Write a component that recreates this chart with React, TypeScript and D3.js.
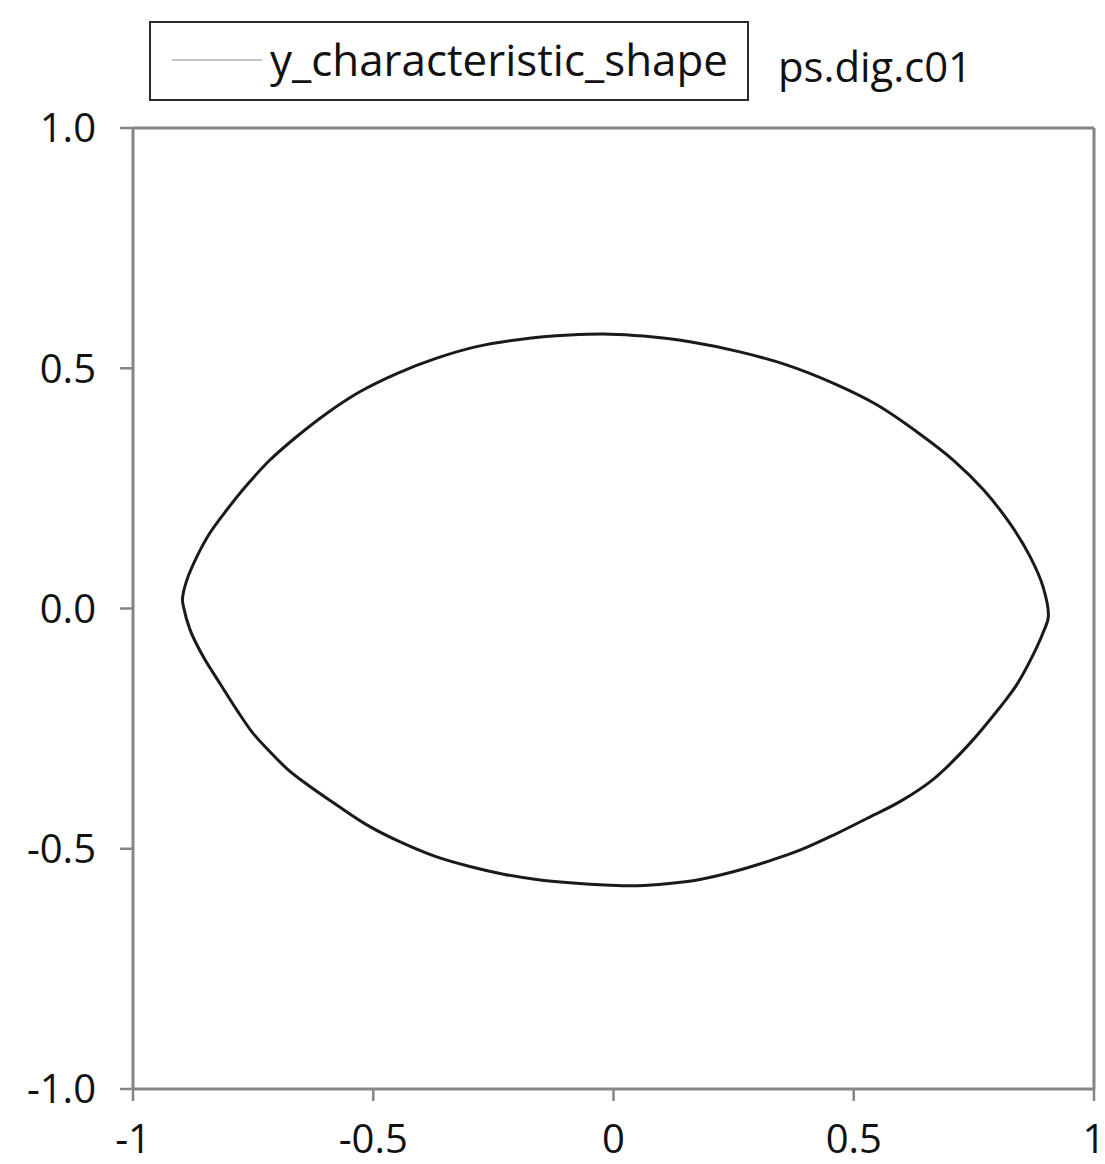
import React from "react";
import * as d3 from "d3";

// Upper branch, left tip to right tip
const upperX = [-0.897, -0.888, -0.867, -0.84, -0.805, -0.763, -0.715, -0.659, -0.597, -0.528, -0.451, -0.368, -0.285, -0.195, -0.091, -0.007, 0.062, 0.159, 0.263, 0.36, 0.457, 0.548, 0.631, 0.707, 0.77, 0.825, 0.867, 0.894, 0.905];
const upperY = [0.02, 0.059, 0.108, 0.157, 0.205, 0.257, 0.309, 0.358, 0.406, 0.451, 0.489, 0.521, 0.545, 0.56, 0.569, 0.571, 0.567, 0.555, 0.534, 0.507, 0.469, 0.424, 0.368, 0.309, 0.247, 0.177, 0.108, 0.045, -0.017];
// Lower branch, right tip back to left tip
const lowerX = [0.895, 0.874, 0.839, 0.804, 0.735, 0.666, 0.596, 0.527, 0.457, 0.388, 0.319, 0.249, 0.18, 0.111, 0.05, -0.007, -0.091, -0.16, -0.229, -0.299, -0.368, -0.437, -0.507, -0.576, -0.646, -0.68, -0.715, -0.75, -0.784, -0.819, -0.854, -0.881, -0.895];
const lowerY = [-0.048, -0.095, -0.159, -0.206, -0.288, -0.355, -0.402, -0.437, -0.472, -0.503, -0.527, -0.548, -0.564, -0.573, -0.577, -0.576, -0.571, -0.564, -0.553, -0.537, -0.517, -0.489, -0.454, -0.409, -0.36, -0.333, -0.298, -0.26, -0.211, -0.156, -0.1, -0.045, 0.004];

const xTicks = [-1, -0.5, 0, 0.5, 1];
const xTickLabels = ["-1", "-0.5", "0", "0.5", "1"];
const yTicks = [1, 0.5, 0, -0.5, -1];
const yTickLabels = ["1.0", "0.5", "0.0", "-0.5", "-1.0"];
const seriesName = "y_characteristic_shape";
const sideLabel = "ps.dig.c01";

export default function App() {
  const W = 1105, H = 1164;
  const left = 133, right = 1094, top = 128, bottom = 1089;
  const x = d3.scaleLinear().domain([-1, 1]).range([left, right]);
  const y = d3.scaleLinear().domain([-1, 1]).range([bottom, top]);

  const pts: [number, number][] = [];
  upperX.forEach((v, i) => pts.push([v, upperY[i]]));
  lowerX.forEach((v, i) => pts.push([v, lowerY[i]]));
  const line = d3
    .line<[number, number]>()
    .x((d) => x(d[0]))
    .y((d) => y(d[1]))
    .curve(d3.curveCatmullRomClosed.alpha(0.5));

  const font = "'Open Sans', 'Noto Sans', sans-serif";
  const axisColor = "#858585";

  return (
    <svg
      width={W}
      height={H}
      style={{ position: "absolute", left: 0, top: 0, background: "#fff" }}
      fontFamily={font}
    >
      <rect x={0} y={0} width={W} height={H} fill="#fff" />
      {/* frame */}
      <line x1={left} y1={top} x2={right} y2={top} stroke={axisColor} strokeWidth={3} />
      <line x1={right} y1={top} x2={right} y2={bottom} stroke={axisColor} strokeWidth={3} />
      <line x1={left} y1={top} x2={left} y2={bottom} stroke={axisColor} strokeWidth={3} />
      <line x1={left} y1={bottom} x2={right} y2={bottom} stroke={axisColor} strokeWidth={3} />
      {/* y ticks */}
      {yTicks.map((t, i) => (
        <g key={"y" + i}>
          <line x1={left - 13} x2={left} y1={y(t)} y2={y(t)} stroke={axisColor} strokeWidth={2.5} />
          <text x={96} y={y(t)} dy="0.36em" textAnchor="end" fontSize={40} fill="#111">
            {yTickLabels[i]}
          </text>
        </g>
      ))}
      {/* x ticks */}
      {xTicks.map((t, i) => (
        <g key={"x" + i}>
          <line x1={x(t)} x2={x(t)} y1={bottom} y2={bottom + 12} stroke={axisColor} strokeWidth={2.5} />
          <text x={x(t)} y={1153} textAnchor="middle" fontSize={40} fill="#111">
            {xTickLabels[i]}
          </text>
        </g>
      ))}
      {/* curve */}
      <path d={line(pts) || ""} fill="none" stroke="#1a1a1a" strokeWidth={3} strokeLinejoin="round" />
      {/* legend */}
      <rect x={150} y={22} width={598} height={78} fill="#fff" stroke="#2a2a2a" strokeWidth={2} />
      <line x1={172} x2={262} y1={60} y2={60} stroke="#b0b0b0" strokeWidth={1.5} />
      <text x={270} y={76} fontSize={43} fill="#111" textLength={458} lengthAdjust="spacingAndGlyphs">
        {seriesName}
      </text>
      <text x={778} y={82} fontSize={42} fill="#111" textLength={194} lengthAdjust="spacingAndGlyphs">
        {sideLabel}
      </text>
    </svg>
  );
}
